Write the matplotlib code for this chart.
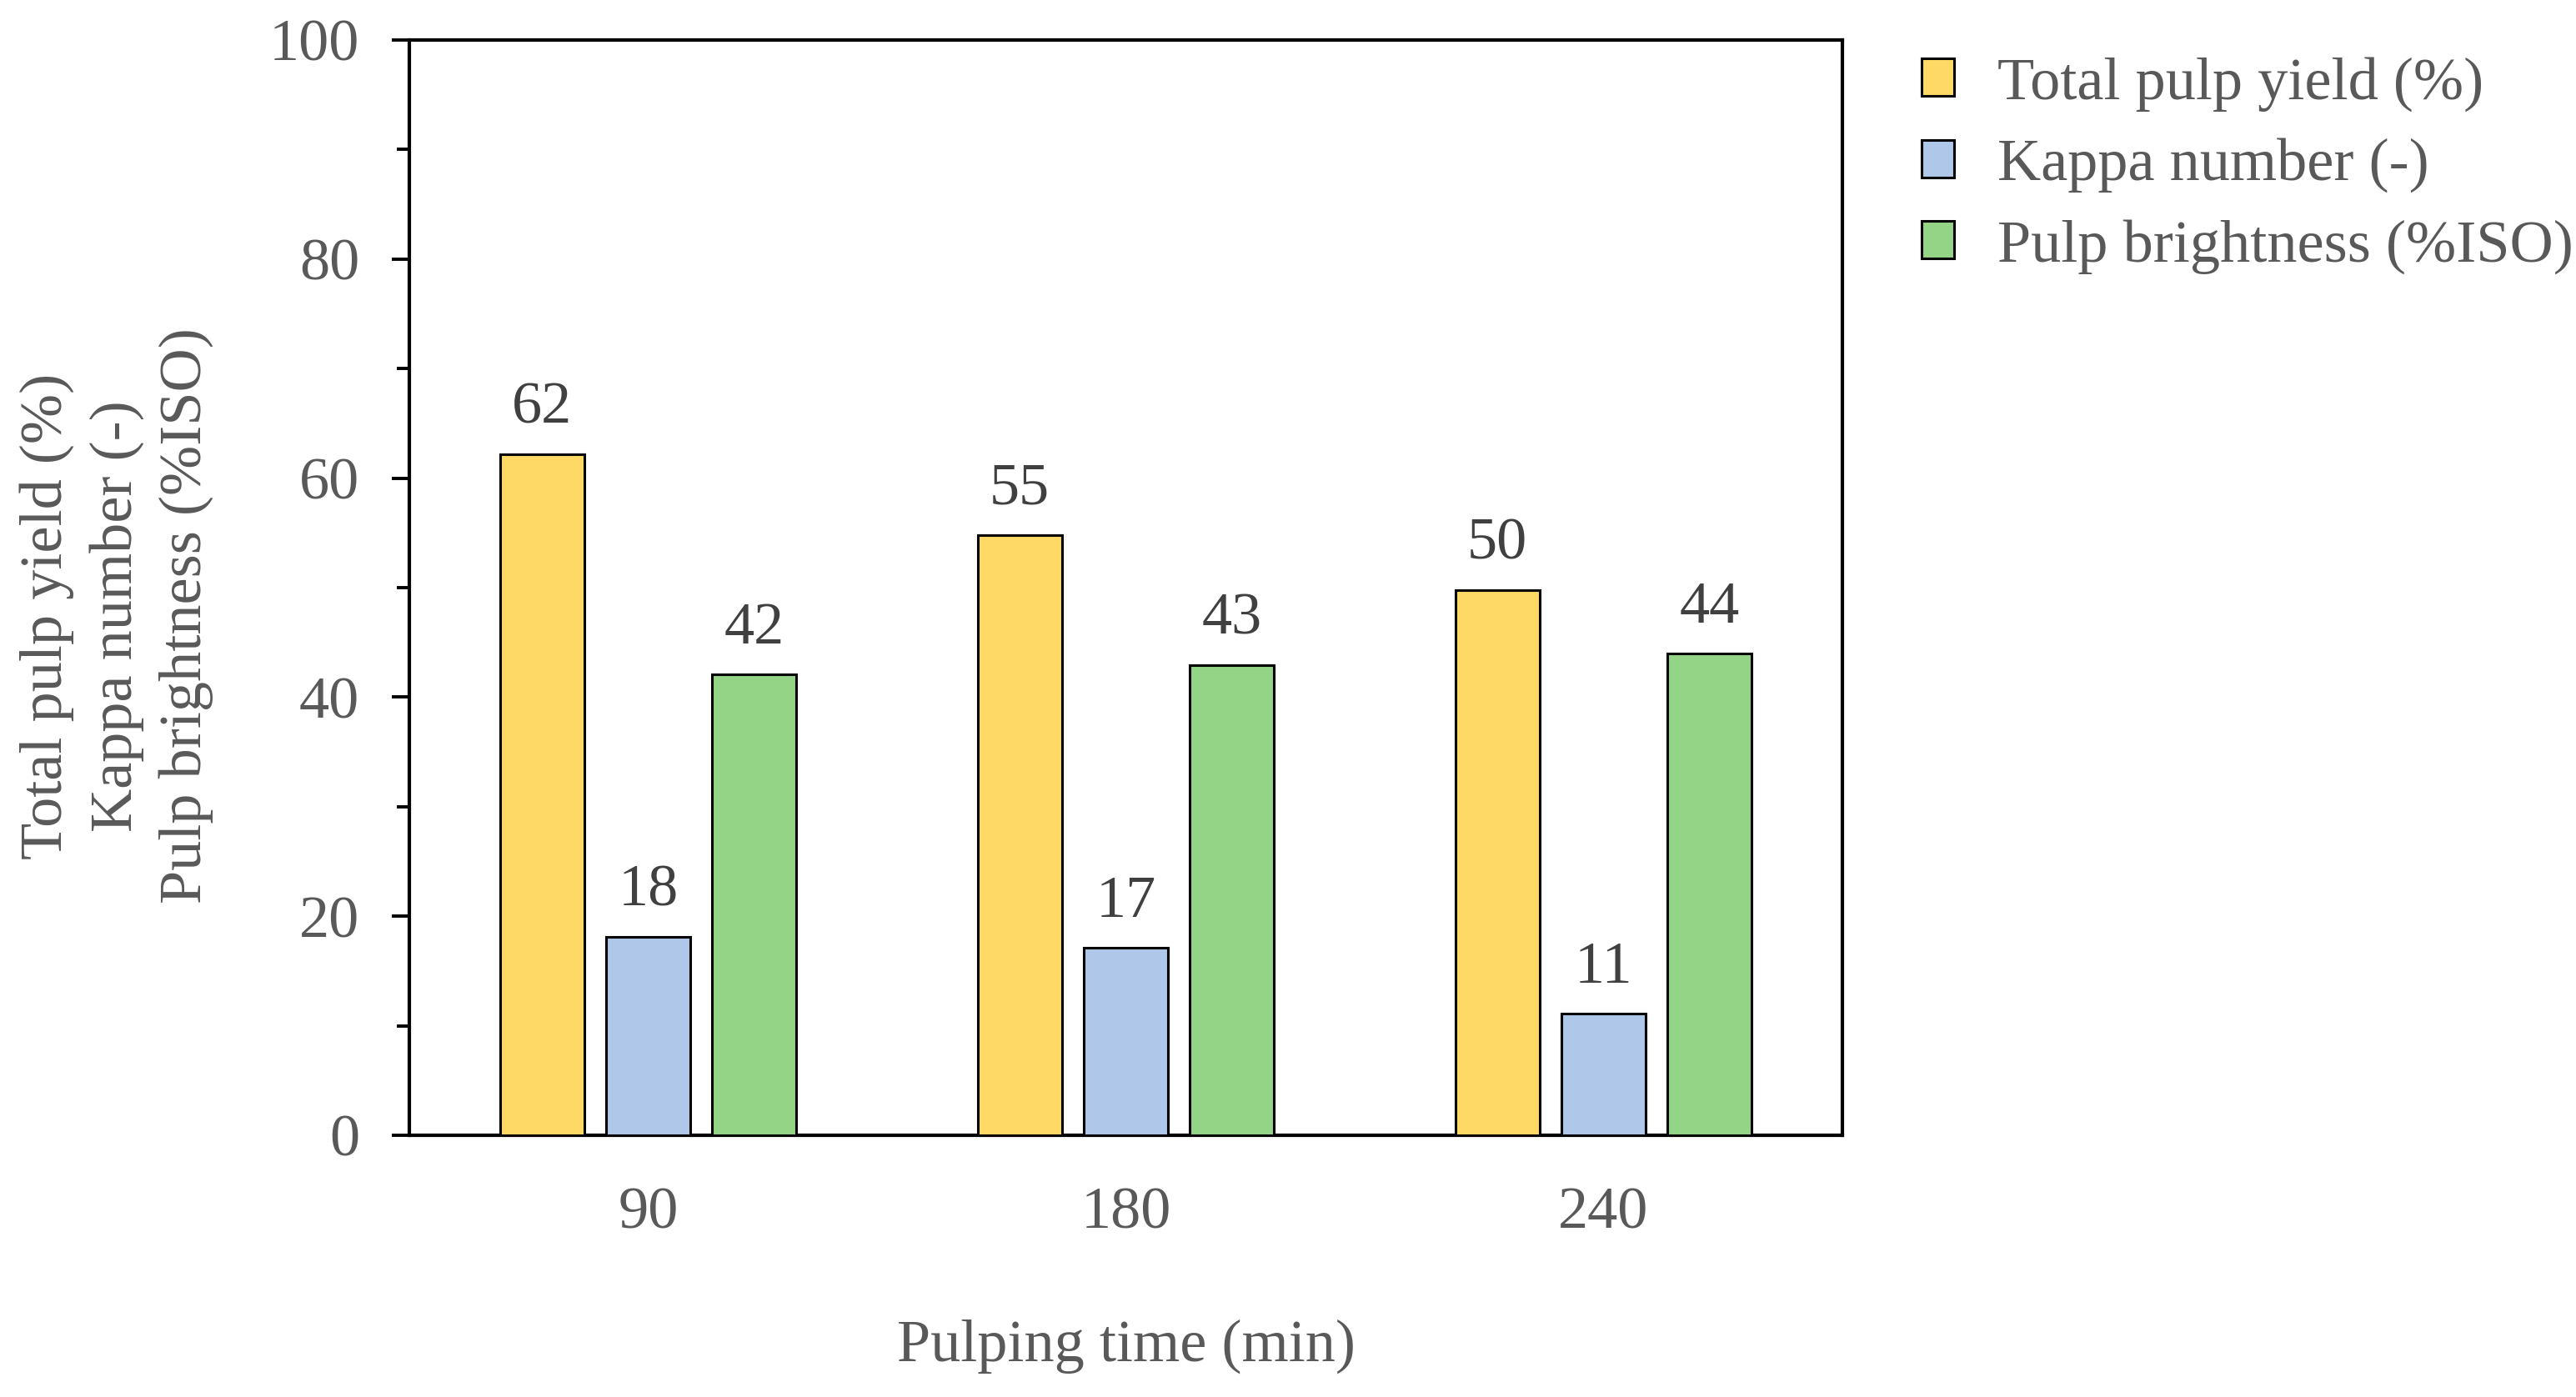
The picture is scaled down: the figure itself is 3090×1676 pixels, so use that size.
import matplotlib
matplotlib.use("Agg")
import matplotlib.pyplot as plt
import numpy as np
from matplotlib.ticker import MultipleLocator

categories = ["90", "180", "240"]
series_names = ["Total pulp yield (%)", "Kappa number (-)", "Pulp brightness (%ISO)"]
yield_vals = [62.2, 54.8, 49.8]
kappa_vals = [18.1, 17.1, 11.1]
bright_vals = [42.1, 42.9, 44.0]
colors = ["#FFD966", "#AFC8E9", "#93D487"]

plt.rcParams['font.family'] = ['Liberation Serif', 'DejaVu Serif']
TXT = "#595959"
FS = 26

fig = plt.figure(figsize=(15.45, 8.38), dpi=200)
ax = fig.add_axes([0.1589, 0.1874, 0.7152 - 0.1589, 0.9714 - 0.1874])

x = np.arange(len(categories))
w = 0.176
step = 0.222
for i, (vals, name, c) in enumerate(zip([yield_vals, kappa_vals, bright_vals], series_names, colors)):
    bars = ax.bar(x + (i - 1) * step, vals, width=w, color=c, edgecolor="black", linewidth=1.1, label=name, zorder=3)
    for b, v in zip(bars, vals):
        ax.annotate(f"{v:.0f}", (b.get_x() + b.get_width() / 2, v), xytext=(0, 8), textcoords="offset points",
                    ha="center", va="bottom", fontsize=FS, color="#404040")

ax.set_xlim(-0.5, 2.5)
ax.set_ylim(0, 100)
ax.set_xticks(x)
ax.set_xticklabels(categories)
ax.yaxis.set_major_locator(MultipleLocator(20))
ax.yaxis.set_minor_locator(MultipleLocator(10))
ax.tick_params(axis="x", length=0, pad=22, labelsize=FS, labelcolor=TXT)
ax.tick_params(axis="y", which="major", length=7.5, width=1.4, pad=14, labelsize=FS, labelcolor=TXT, direction="out")
ax.tick_params(axis="y", which="minor", length=5.5, width=1.4, direction="out")
for s in ax.spines.values():
    s.set_linewidth(1.5)

ax.set_xlabel("Pulping time (min)", fontsize=FS, color=TXT, labelpad=34)
fig.text(0.0453, 0.559, "Total pulp yield (%)\nKappa number (-)\nPulp brightness (%ISO)", rotation=90,
         ha="center", va="center", multialignment="center", fontsize=FS, color=TXT, linespacing=1.35)

ax.legend(loc="upper left", bbox_to_anchor=(1.055, 0.985), frameon=False, fontsize=FS,
          handlelength=0.54, handleheight=0.58, handletextpad=0.72, labelspacing=0.44, borderaxespad=0,
          borderpad=0, labelcolor=TXT)

fig.savefig("out.png", dpi=200)
